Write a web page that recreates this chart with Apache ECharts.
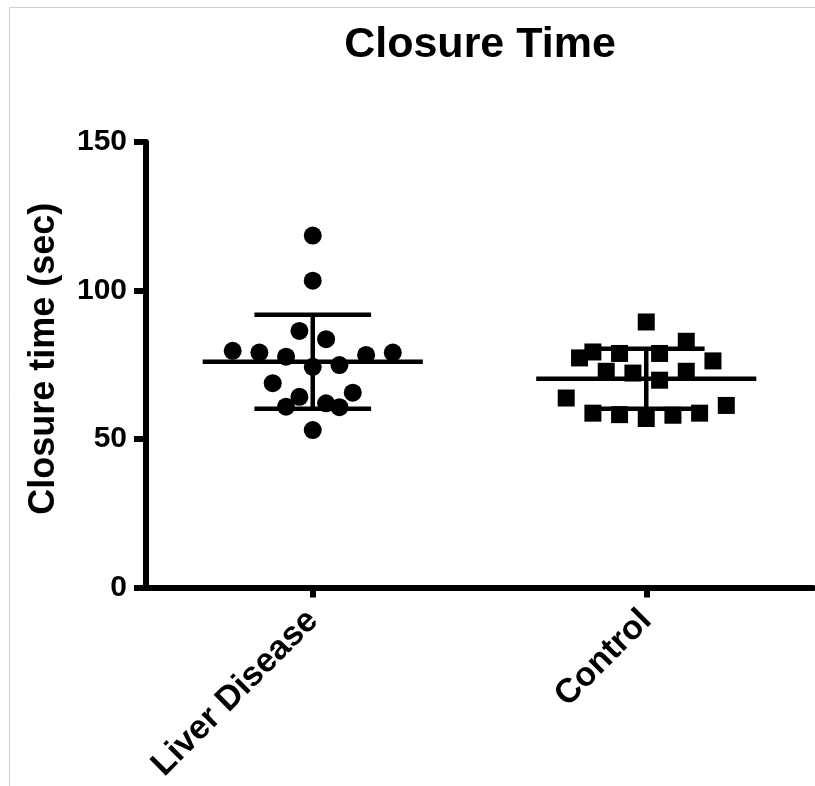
<!DOCTYPE html>
<html>
<head>
<meta charset="utf-8">
<script src="https://cdn.jsdelivr.net/npm/echarts@6/dist/echarts.min.js"></script>
<style>
html, body { margin: 0; padding: 0; background: #ffffff; }
#chart { width: 815px; height: 786px; }
</style>
</head>
<body>
<div id="chart"></div>
<script>
// ---- data ----
const categories = ['Liver Disease', 'Control'];
const yTickValues = [0, 50, 100, 150];

// Liver Disease: closure times (sec) and horizontal position within the group column
const liverValues = [118.5, 103.3, 86.4, 83.6, 79.7, 79.1, 77.7, 78.3, 79.1, 74.3, 74.9, 68.8, 65.6, 64.2, 60.9, 62.0, 60.7, 53.0];
const liverSpread = [0, 0, -0.04, 0.04, -0.24, -0.16, -0.08, 0.16, 0.24, 0, 0.08, -0.12, 0.12, -0.04, -0.08, 0.04, 0.08, 0];

// Control: closure times (sec) and horizontal position within the group column
const controlValues = [89.4, 82.9, 79.3, 77.3, 78.8, 78.8, 76.3, 72.8, 72.2, 72.8, 69.8, 63.8, 61.3, 58.7, 58.2, 56.9, 58.0, 58.7];
const controlSpread = [0, 0.12, -0.16, -0.2, -0.08, 0.04, 0.2, -0.12, -0.04, 0.12, 0.04, -0.24, 0.24, -0.16, -0.08, 0, 0.08, 0.16];

// mean and SD per group (as drawn)
const meanValues = [76.0, 70.3];
const sdValues = [15.8, 10.1];

// ---- chart ----
const FONT = "'Liberation Sans', Arial, Helvetica, sans-serif";
const MEAN_HALF = 0.33;
const CAP_HALF = 0.175;

function groupPoints(groupIndex, values, spread) {
  return values.map((v, i) => [groupIndex + spread[i], v]);
}

const chart = echarts.init(document.getElementById('chart'), null, { renderer: 'canvas' });

const option = {
  backgroundColor: '#ffffff',
  animation: false,
  title: {
    text: 'Closure Time',
    left: 475,
    textAlign: 'center',
    top: 19,
    textStyle: { fontFamily: FONT, fontWeight: 'bold', fontSize: 43, color: '#000' }
  },
  grid: { left: 146, right: 2, top: 142, bottom: 198.5, containLabel: false },
  xAxis: [
    {
      type: 'category',
      data: categories,
      boundaryGap: true,
      axisLine: { show: true, onZero: false, lineStyle: { color: '#000', width: 6 } },
      axisTick: { show: true, alignWithLabel: true, length: 10, lineStyle: { color: '#000', width: 6 } },
      axisLabel: {
        rotate: 45, margin: 28, color: '#000',
        fontFamily: FONT, fontWeight: 'bold', fontSize: 34
      },
      splitLine: { show: false }
    },
    {
      type: 'value',
      min: -0.5, max: 1.5,
      show: false,
      position: 'top',
      axisLine: { onZero: false },
      splitLine: { show: false }
    }
  ],
  yAxis: {
    type: 'value',
    min: yTickValues[0],
    max: yTickValues[yTickValues.length - 1],
    interval: yTickValues[1] - yTickValues[0],
    name: 'Closure time (sec)',
    nameLocation: 'middle',
    nameGap: 84,
    nameTextStyle: { fontFamily: FONT, fontWeight: 'bold', fontSize: 36, color: '#000', padding: [0, 0, 0, 12] },
    axisLine: { show: true, onZero: false, lineStyle: { color: '#000', width: 6 } },
    axisTick: { show: true, length: 12, lineStyle: { color: '#000', width: 6 } },
    axisLabel: { margin: 19, color: '#000', fontFamily: FONT, fontWeight: 'bold', fontSize: 30 },
    splitLine: { show: false }
  },
  series: [
    {
      name: 'Mean ± SD',
      type: 'custom',
      xAxisIndex: 1,
      yAxisIndex: 0,
      z: 2,
      data: meanValues.map((m, i) => [i, m, sdValues[i]]),
      renderItem: function (params, api) {
        const x = api.value(0), m = api.value(1), s = api.value(2);
        const style = { stroke: '#000', lineWidth: 4.5, fill: null };
        const seg = (a, b) => {
          const p1 = api.coord(a), p2 = api.coord(b);
          return { type: 'line', shape: { x1: p1[0], y1: p1[1], x2: p2[0], y2: p2[1] }, style: style };
        };
        return {
          type: 'group',
          children: [
            seg([x - MEAN_HALF, m], [x + MEAN_HALF, m]),
            seg([x, m - s], [x, m + s]),
            seg([x - CAP_HALF, m + s], [x + CAP_HALF, m + s]),
            seg([x - CAP_HALF, m - s], [x + CAP_HALF, m - s])
          ]
        };
      }
    },
    {
      name: categories[0],
      type: 'scatter',
      xAxisIndex: 1,
      yAxisIndex: 0,
      z: 3,
      symbol: 'circle',
      symbolSize: 18,
      itemStyle: { color: '#000', opacity: 1 },
      data: groupPoints(0, liverValues, liverSpread)
    },
    {
      name: categories[1],
      type: 'scatter',
      xAxisIndex: 1,
      yAxisIndex: 0,
      z: 3,
      symbol: 'rect',
      symbolSize: 17,
      itemStyle: { color: '#000', opacity: 1 },
      data: groupPoints(1, controlValues, controlSpread)
    }
  ],
  graphic: [
    { type: 'line', shape: { x1: 9, y1: 7.5, x2: 815, y2: 7.5 }, style: { stroke: '#d0d0d0', lineWidth: 1 } },
    { type: 'line', shape: { x1: 9.5, y1: 7, x2: 9.5, y2: 786 }, style: { stroke: '#d0d0d0', lineWidth: 1 } }
  ]
};

chart.setOption(option);
</script>
</body>
</html>
